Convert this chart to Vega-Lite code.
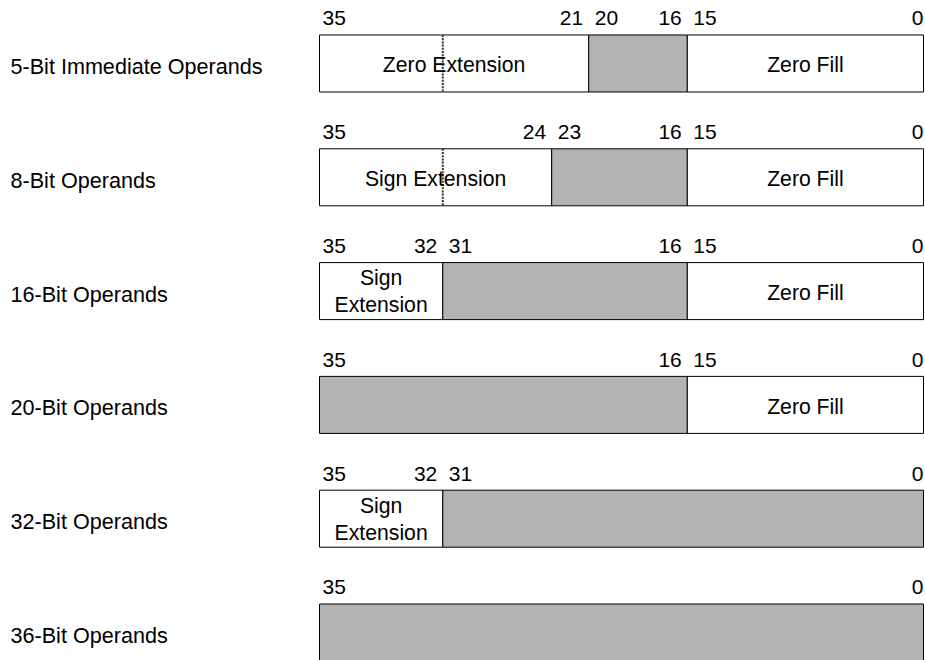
{
  "$schema": "https://vega.github.io/schema/vega-lite/v6.json",
  "width": 605,
  "height": 661,
  "autosize": {"type": "none"},
  "padding": {"left": 319, "top": 0, "right": 1, "bottom": 0},
  "background": "white",
  "config": {"view": {"stroke": null}, "font": "Liberation Sans"},
  "data": {"values": [
    {"operand": "5-Bit Immediate Operands", "msb": 35, "lsb": 21, "label": "Zero Extension", "kind": "extension"},
    {"operand": "5-Bit Immediate Operands", "msb": 20, "lsb": 16, "label": "", "kind": "value"},
    {"operand": "5-Bit Immediate Operands", "msb": 15, "lsb": 0, "label": "Zero Fill", "kind": "fill"},
    {"operand": "8-Bit Operands", "msb": 35, "lsb": 24, "label": "Sign Extension", "kind": "extension"},
    {"operand": "8-Bit Operands", "msb": 23, "lsb": 16, "label": "", "kind": "value"},
    {"operand": "8-Bit Operands", "msb": 15, "lsb": 0, "label": "Zero Fill", "kind": "fill"},
    {"operand": "16-Bit Operands", "msb": 35, "lsb": 32, "label": "Sign\nExtension", "kind": "extension"},
    {"operand": "16-Bit Operands", "msb": 31, "lsb": 16, "label": "", "kind": "value"},
    {"operand": "16-Bit Operands", "msb": 15, "lsb": 0, "label": "Zero Fill", "kind": "fill"},
    {"operand": "20-Bit Operands", "msb": 35, "lsb": 16, "label": "", "kind": "value"},
    {"operand": "20-Bit Operands", "msb": 15, "lsb": 0, "label": "Zero Fill", "kind": "fill"},
    {"operand": "32-Bit Operands", "msb": 35, "lsb": 32, "label": "Sign\nExtension", "kind": "extension"},
    {"operand": "32-Bit Operands", "msb": 31, "lsb": 0, "label": "", "kind": "value"},
    {"operand": "36-Bit Operands", "msb": 35, "lsb": 0, "label": "", "kind": "value"}
  ]},
  "encoding": {
    "y": {
      "field": "operand",
      "type": "nominal",
      "sort": null,
      "scale": {
        "domain": ["5-Bit Immediate Operands", "8-Bit Operands", "16-Bit Operands", "20-Bit Operands", "32-Bit Operands", "36-Bit Operands"],
        "paddingInner": 0.499,
        "paddingOuter": 0.1537,
        "align": 1,
        "round": false
      },
      "axis": {
        "orient": "left",
        "title": null,
        "domain": false,
        "ticks": false,
        "grid": false,
        "labelAlign": "left",
        "labelBaseline": "alphabetic",
        "labelPadding": 309,
        "labelOffset": 10.5,
        "labelFontSize": 21.6,
        "labelFont": "Liberation Sans",
        "labelColor": "black",
        "labelLimit": 400
      }
    }
  },
  "layer": [
    {
      "mark": {"type": "rect", "stroke": "black", "strokeWidth": 1},
      "encoding": {
        "x": {
          "field": "msb",
          "type": "quantitative",
          "scale": {
            "domain": [0, 15, 16, 20, 21, 23, 24, 31, 32, 35],
            "range": [604.5, 368.3, 368.3, 269.7, 269.7, 232.7, 232.7, 123.8, 123.8, 0.5],
            "zero": false,
            "nice": false
          },
          "axis": null
        },
        "x2": {"field": "lsb"},
        "fill": {
          "field": "kind",
          "type": "nominal",
          "scale": {"domain": ["extension", "value", "fill"], "range": ["white", "#b3b3b3", "white"]},
          "legend": null
        }
      }
    },
    {
      "data": {"values": [
        {"operand": "5-Bit Immediate Operands", "boundary": 31},
        {"operand": "8-Bit Operands", "boundary": 31}
      ]},
      "mark": {"type": "rule", "stroke": "#333333", "strokeWidth": 2, "strokeDash": [2, 1.2]},
      "encoding": {
        "x": {"field": "boundary", "type": "quantitative"},
        "y": {"field": "operand", "type": "nominal", "sort": null, "bandPosition": 0},
        "y2": {"field": "operand", "bandPosition": 1}
      }
    },
    {
      "transform": [{"filter": "datum.msb == 35"}],
      "mark": {"type": "text", "align": "left", "baseline": "alphabetic", "dx": 3, "dy": -9.5, "fontSize": 21, "color": "black"},
      "encoding": {
        "x": {"field": "msb", "type": "quantitative"},
        "y": {"field": "operand", "type": "nominal", "sort": null, "bandPosition": 0},
        "text": {"field": "msb", "type": "quantitative"}
      }
    },
    {
      "transform": [{"filter": "datum.msb < 35"}],
      "mark": {"type": "text", "align": "left", "baseline": "alphabetic", "dx": 6, "dy": -9.5, "fontSize": 21, "color": "black"},
      "encoding": {
        "x": {"field": "msb", "type": "quantitative"},
        "y": {"field": "operand", "type": "nominal", "sort": null, "bandPosition": 0},
        "text": {"field": "msb", "type": "quantitative"}
      }
    },
    {
      "transform": [{"filter": "datum.lsb > 0"}],
      "mark": {"type": "text", "align": "right", "baseline": "alphabetic", "dx": -5.5, "dy": -9.5, "fontSize": 21, "color": "black"},
      "encoding": {
        "x": {"field": "lsb", "type": "quantitative"},
        "y": {"field": "operand", "type": "nominal", "sort": null, "bandPosition": 0},
        "text": {"field": "lsb", "type": "quantitative"}
      }
    },
    {
      "transform": [{"filter": "datum.lsb == 0"}],
      "mark": {"type": "text", "align": "right", "baseline": "alphabetic", "dx": 0, "dy": -9.5, "fontSize": 21, "color": "black"},
      "encoding": {
        "x": {"field": "lsb", "type": "quantitative"},
        "y": {"field": "operand", "type": "nominal", "sort": null, "bandPosition": 0},
        "text": {"field": "lsb", "type": "quantitative"}
      }
    },
    {
      "transform": [{"filter": "datum.label != '' && indexof(datum.label, '\\n') < 0"}],
      "mark": {"type": "text", "align": "center", "baseline": "alphabetic", "dy": 9, "fontSize": 21.2, "color": "black"},
      "encoding": {
        "x": {"value": {"expr": "(scale('x', datum.msb) + scale('x', datum.lsb)) / 2"}},
        "text": {"field": "label", "type": "nominal"}
      }
    },
    {
      "transform": [{"filter": "indexof(datum.label, '\\n') >= 0"}],
      "mark": {"type": "text", "align": "center", "baseline": "alphabetic", "dy": -5.7, "lineBreak": "\n", "lineHeight": 26.7, "fontSize": 21.2, "color": "black"},
      "encoding": {
        "x": {"value": {"expr": "(scale('x', datum.msb) + scale('x', datum.lsb)) / 2"}},
        "text": {"field": "label", "type": "nominal"}
      }
    }
  ]
}
